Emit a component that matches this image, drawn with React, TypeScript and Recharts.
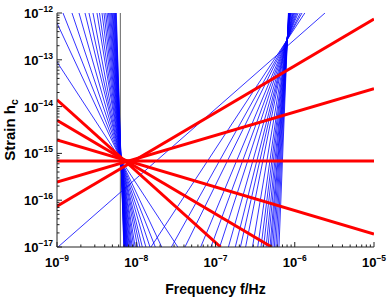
import React from 'react';
import { LineChart, Line, XAxis, YAxis, ReferenceLine } from 'recharts';

// axis decades and minor steps
const X_DECADES = [1e-9, 1e-8, 1e-7, 1e-6, 1e-5];
const Y_DECADES = [1e-17, 1e-16, 1e-15, 1e-14, 1e-13, 1e-12];
const MINOR_STEPS = [2, 3, 4, 5, 6, 7, 8, 9];

// red power laws: h at the left edge (f = 1e-9) and where they leave the frame
const RED_LEFT_H = [1.4e-14, 5.1e-15, 1.95e-15, 6.9e-16, 2.45e-16, 7.4e-17];
const RED_END_F = [1.16e-7, 5.1e-7, 1e-5, 1e-5, 1e-5, 1e-5];
const RED_END_H = [1e-17, 1e-17, 1.9e-17, 6.9e-16, 2.4e-14, 7.4e-13];

// left blue fan: frequency where each line crosses h=1e-12 and h=1e-17
const LEFT_FAN_TOP_F = [
  3.95e-10, 8.72e-10, 1.19e-9, 1.546e-9, 1.895e-9, 2.256e-9, 2.533e-9, 2.846e-9,
  3.197e-9, 3.437e-9, 3.697e-9, 3.917e-9, 4.115e-9, 4.298e-9, 4.464e-9, 4.609e-9,
  4.745e-9, 4.871e-9, 4.985e-9, 5.087e-9, 5.192e-9, 5.284e-9, 5.377e-9, 5.455e-9,
  5.535e-9, 5.6e-9,
];
const LEFT_FAN_BOTTOM_F = [
  3.344e-8, 2.095e-8, 1.739e-8, 1.491e-8, 1.323e-8, 1.192e-8, 1.112e-8, 1.04e-8,
  9.7e-9, 9.29e-9, 8.89e-9, 8.61e-9, 8.36e-9, 8.15e-9, 7.96e-9, 7.8e-9,
  7.69e-9, 7.55e-9, 7.47e-9, 7.36e-9, 7.27e-9, 7.21e-9, 7.13e-9, 7.07e-9,
  7.01e-9, 6.97e-9,
];

// right blue fan: crossing of h=1e-17 (bottom) and h=1e-12 (top)
const RIGHT_FAN_BOTTOM_F = [
  1.03e-9, 1.535e-8, 2.777e-8, 4.12e-8, 6.5e-8, 8.77e-8, 1.13e-7, 1.455e-7,
  1.777e-7, 2.062e-7, 2.398e-7, 2.93e-7, 3.41e-7, 3.75e-7, 4.04e-7, 4.35e-7,
  4.6e-7, 4.87e-7, 5.06e-7, 5.29e-7, 5.53e-7, 5.78e-7, 6.05e-7, 6.32e-7,
];
const RIGHT_FAN_TOP_F = [
  2.408e-6, 1.339e-6, 1.234e-6, 1.175e-6, 1.105e-6, 1.064e-6, 1.031e-6, 9.99e-7,
  9.73e-7, 9.53e-7, 9.34e-7, 9.1e-7, 8.92e-7, 8.81e-7, 8.74e-7, 8.68e-7,
  8.63e-7, 8.57e-7, 8.53e-7, 8.49e-7, 8.44e-7, 8.4e-7, 8.36e-7, 8.32e-7,
];

// observation-time line (1 / 5 yr)
const T_OBS_F = 6.3e-9;

const withMinors = (decades: number[]) => {
  const out: number[] = [];
  decades.forEach((d, i) => {
    out.push(d);
    if (i < decades.length - 1) MINOR_STEPS.forEach((m) => out.push(d * m));
  });
  return out;
};

const X_TICKS = withMinors(X_DECADES);
const Y_TICKS = withMinors(Y_DECADES);

const FONT = '"Liberation Sans", Arial, Helvetica, sans-serif';

const redLines = RED_LEFT_H.map((h, i) => [
  { f: 1e-9, h },
  { f: RED_END_F[i], h: RED_END_H[i] },
]);
const leftFan = LEFT_FAN_TOP_F.map((f, i) => [
  { f, h: 1e-12 },
  { f: LEFT_FAN_BOTTOM_F[i], h: 1e-17 },
]);
const rightFan = RIGHT_FAN_BOTTOM_F.map((f, i) => [
  { f, h: 1e-17 },
  { f: RIGHT_FAN_TOP_F[i], h: 1e-12 },
]);

const LogTick = (props: any) => {
  const { x, y, payload, side } = props;
  const v = payload.value;
  const lg = Math.log10(v);
  const exp = Math.round(lg);
  const major = Math.abs(lg - exp) < 1e-6;
  const len = major ? 5 : 2.5;
  const color = side === 'top' || side === 'right' ? '#888' : '#222';
  let mark = null;
  if (side === 'bottom') mark = <line x1={x} y1={y} x2={x} y2={y - len} stroke={color} />;
  if (side === 'top') mark = <line x1={x} y1={y} x2={x} y2={y + len} stroke={color} />;
  if (side === 'left') mark = <line x1={x} y1={y} x2={x + len} y2={y} stroke={color} />;
  if (side === 'right') mark = <line x1={x} y1={y} x2={x - len} y2={y} stroke={color} />;
  let label = null;
  const sup = `\u2212${Math.abs(exp)}`;
  if (major && side === 'bottom') {
    label = (
      <text x={x} y={y + 20} textAnchor="middle" fontFamily={FONT} fontWeight="bold" fontSize={13} fill="#000">
        10<tspan dy={-6} fontSize={8.5}>{sup}</tspan>
      </text>
    );
  }
  if (major && side === 'left') {
    label = (
      <text x={x - 4} y={y + 5} textAnchor="end" fontFamily={FONT} fontWeight="bold" fontSize={13} fill="#000">
        10<tspan dy={-6} fontSize={8.5}>{sup}</tspan>
      </text>
    );
  }
  return (
    <g>
      {mark}
      {label}
    </g>
  );
};

export default function App() {
  return (
    <div style={{ position: 'absolute', left: 0, top: 0, width: 392, height: 303, background: '#fff' }}>
      <LineChart width={392} height={303} margin={{ top: 13, right: 18, bottom: 0, left: 0 }}>
        <XAxis
          xAxisId={0}
          type="number"
          dataKey="f"
          scale="log"
          domain={[1e-9, 1e-5]}
          allowDataOverflow
          ticks={X_TICKS}
          interval={0}
          height={56}
          tickSize={0}
          tickMargin={0}
          tickLine={false}
          axisLine={{ stroke: '#222' }}
          tick={(p: any) => <LogTick {...p} side="bottom" />}
        />
        <XAxis
          xAxisId="top"
          orientation="top"
          type="number"
          dataKey="f"
          scale="log"
          domain={[1e-9, 1e-5]}
          allowDataOverflow
          ticks={X_TICKS}
          interval={0}
          height={0}
          tickSize={0}
          tickMargin={0}
          tickLine={false}
          axisLine={{ stroke: '#888' }}
          tick={(p: any) => <LogTick {...p} side="top" />}
        />
        <YAxis
          yAxisId={0}
          type="number"
          dataKey="h"
          scale="log"
          domain={[1e-17, 1e-12]}
          allowDataOverflow
          ticks={Y_TICKS}
          interval={0}
          width={57}
          tickSize={0}
          tickMargin={0}
          tickLine={false}
          axisLine={{ stroke: '#222' }}
          tick={(p: any) => <LogTick {...p} side="left" />}
        />
        <YAxis
          yAxisId="right"
          orientation="right"
          type="number"
          dataKey="h"
          scale="log"
          domain={[1e-17, 1e-12]}
          allowDataOverflow
          ticks={Y_TICKS}
          interval={0}
          width={0}
          tickSize={0}
          tickMargin={0}
          tickLine={false}
          axisLine={{ stroke: '#888' }}
          tick={(p: any) => <LogTick {...p} side="right" />}
        />
        <ReferenceLine x={T_OBS_F} stroke="#666" strokeWidth={1} />
        {leftFan.map((d, i) => (
          <Line
            key={`lf-${i}`}
            data={d}
            dataKey="h"
            stroke="#0000ff"
            strokeWidth={0.8}
            dot={false}
            activeDot={false}
            isAnimationActive={false}
          />
        ))}
        {rightFan.map((d, i) => (
          <Line
            key={`rf-${i}`}
            data={d}
            dataKey="h"
            stroke="#0000ff"
            strokeWidth={0.8}
            dot={false}
            activeDot={false}
            isAnimationActive={false}
          />
        ))}
        {redLines.map((d, i) => (
          <Line
            key={`red-${i}`}
            data={d}
            dataKey="h"
            stroke="#ff0000"
            strokeWidth={3}
            dot={false}
            activeDot={false}
            isAnimationActive={false}
          />
        ))}
      </LineChart>
      <svg width={392} height={303} style={{ position: 'absolute', left: 0, top: 0, pointerEvents: 'none' }}>
        <text x={215.5} y={294} textAnchor="middle" fontFamily={FONT} fontWeight="bold" fontSize={14} fill="#000">
          Frequency f/Hz
        </text>
        <text
          transform="translate(15,130) rotate(-90)"
          textAnchor="middle"
          fontFamily={FONT}
          fontWeight="bold"
          fontSize={15}
          fill="#000"
        >
          Strain h<tspan dy={3} fontSize={10.5}>c</tspan>
        </text>
      </svg>
    </div>
  );
}
